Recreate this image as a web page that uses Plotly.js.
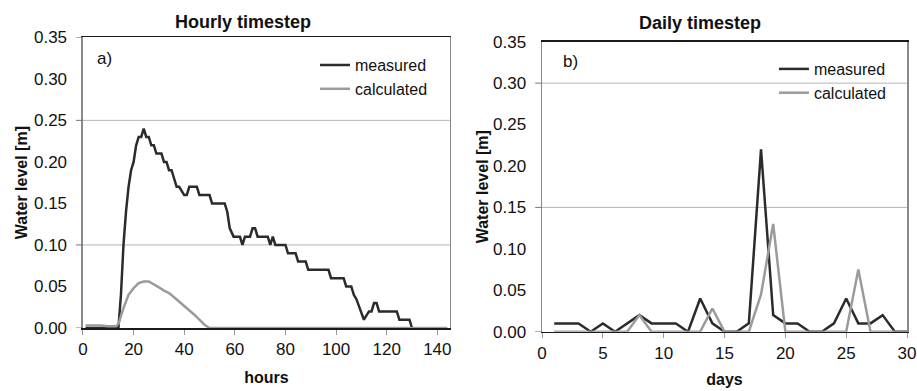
<!DOCTYPE html>
<html>
<head>
<meta charset="utf-8">
<script src="https://cdn.plot.ly/plotly-3.0.1.min.js"></script>
<style>
html,body{margin:0;padding:0;background:#fff;}
#chart{width:917px;height:391px;}
</style>
</head>
<body>
<div id="chart"></div>
<script>
// ---- Panel a: hourly timestep (vertices) ----
var hoursMeasured = [1, 14, 15, 16, 17, 18, 19, 20, 21, 22, 23, 24, 25, 26, 27, 28, 29, 31, 32, 33, 34, 35, 36, 37, 38, 40, 41, 42, 45, 46, 50, 51, 56, 57, 58, 59.5, 62, 63, 64, 66, 67, 68, 69, 73, 74, 75, 76, 80, 81, 84, 85, 88, 89, 97, 98, 103, 104, 106, 107, 108, 111, 113, 114, 115, 116, 117, 124, 125, 129, 130];
var levelMeasuredHourly = [0, 0, 0.04, 0.10, 0.14, 0.17, 0.19, 0.20, 0.22, 0.23, 0.23, 0.24, 0.23, 0.23, 0.22, 0.22, 0.21, 0.21, 0.20, 0.20, 0.19, 0.19, 0.18, 0.17, 0.17, 0.16, 0.16, 0.17, 0.17, 0.16, 0.16, 0.15, 0.15, 0.14, 0.12, 0.11, 0.11, 0.10, 0.11, 0.11, 0.12, 0.12, 0.11, 0.11, 0.10, 0.11, 0.10, 0.10, 0.09, 0.09, 0.08, 0.08, 0.07, 0.07, 0.06, 0.06, 0.05, 0.05, 0.04, 0.035, 0.01, 0.02, 0.02, 0.03, 0.03, 0.02, 0.02, 0.01, 0.01, 0];

var hoursCalculated = [1, 7, 10, 13, 14, 16, 18, 20, 22, 24, 26, 28, 30, 32, 34, 36, 38, 40, 42, 44, 46, 48, 50, 144];
var levelCalculatedHourly = [0.003, 0.003, 0.002, 0.002, 0.005, 0.024, 0.040, 0.048, 0.054, 0.056, 0.056, 0.053, 0.049, 0.045, 0.042, 0.037, 0.032, 0.027, 0.022, 0.016, 0.010, 0.004, 0, 0];

// ---- Panel b: daily timestep ----
var days = [1,2,3,4,5,6,7,8,9,10,11,12,13,14,15,16,17,18,19,20,21,22,23,24,25,26,27,28,29,30];
var levelMeasuredDaily = [0.01,0.01,0.01,0,0.01,0,0.01,0.02,0.01,0.01,0.01,0,0.04,0.01,0,0,0.01,0.22,0.02,0.01,0.01,0,0,0.01,0.04,0.01,0.01,0.02,0,0];
var levelCalculatedDaily = [0,0,0,0,0,0,0,0.02,0,0,0,0,0,0.028,0,0,0,0.045,0.13,0,0,0,0,0,0,0.075,0,0,0,0];

var seriesNames = ['measured', 'calculated'];
var yTickVals = [0, 0.05, 0.10, 0.15, 0.20, 0.25, 0.30, 0.35];
var gridValsA = [0.10, 0.25];
var tickMarkValsA = [0, 0.10, 0.25, 0.35];
var gridValsB = [0.15, 0.30];
var tickMarkValsB = [0, 0.15, 0.30];

var FONT = 'Liberation Sans, Arial, sans-serif';
var DARK = '#2b2b2b', GREY = '#9b9b9b';

var traces = [
  {x: hoursMeasured, y: levelMeasuredHourly, name: seriesNames[0], type: 'scatter', mode: 'lines',
   line: {color: DARK, width: 2.5}, xaxis: 'x', yaxis: 'y', legend: 'legend'},
  {x: hoursCalculated, y: levelCalculatedHourly, name: seriesNames[1], type: 'scatter', mode: 'lines',
   line: {color: GREY, width: 2.5}, xaxis: 'x', yaxis: 'y', legend: 'legend'},
  {x: days, y: levelMeasuredDaily, name: seriesNames[0], type: 'scatter', mode: 'lines',
   line: {color: DARK, width: 2.5}, xaxis: 'x2', yaxis: 'y2', legend: 'legend2'},
  {x: days, y: levelCalculatedDaily, name: seriesNames[1], type: 'scatter', mode: 'lines',
   line: {color: GREY, width: 2.5}, xaxis: 'x2', yaxis: 'y2', legend: 'legend2'}
];

var tickFont = {family: FONT, size: 17, color: '#111'};
var titleFont = {family: FONT, size: 16, color: '#111', weight: 'bold'};

function yMain(domain, anchor, standoff) {
  return {domain: domain, anchor: anchor, range: [0, 0.35], autorange: false,
    tickvals: yTickVals, tickformat: '.2f', ticks: '', showgrid: false, zeroline: false,
    showline: true, linecolor: '#8a8a8a', linewidth: 1.5, mirror: true,
    tickfont: tickFont, ticklabelstandoff: 11, fixedrange: true,
    title: {text: 'Water level [m]', font: titleFont, standoff: standoff}};
}

// gridlines and y tick marks (styling, positioned on the y data scale)
var shapes = [];
function addGrid(xd, yr, gridVals, tickVals) {
  gridVals.forEach(function (v) {
    shapes.push({type: 'line', xref: xd, yref: yr, x0: 0, x1: 1, y0: v, y1: v, layer: 'below',
      line: {color: '#b4b4b4', width: 1}});
  });
  tickVals.forEach(function (v) {
    shapes.push({type: 'line', xref: xd, yref: yr, x0: -0.019, x1: 0, y0: v, y1: v, layer: 'above',
      line: {color: '#777', width: 1}});
  });
}
addGrid('x domain', 'y', gridValsA, tickMarkValsA);
addGrid('x2 domain', 'y2', gridValsB, tickMarkValsB);

var layout = {
  width: 917, height: 391,
  margin: {l: 0, r: 0, t: 0, b: 0},
  paper_bgcolor: '#fff', plot_bgcolor: 'rgba(0,0,0,0)',
  font: {family: FONT, color: '#111'},
  xaxis: {domain: [0.0905, 0.4907], anchor: 'y', range: [0, 145], autorange: false,
    dtick: 20, tick0: 0, ticks: 'outside', ticklen: 5, tickcolor: '#999',
    showgrid: false, zeroline: false, showline: true, linecolor: '#1a1a1a', linewidth: 1.5, mirror: true,
    tickfont: tickFont, fixedrange: true,
    title: {text: 'hours', font: titleFont, standoff: 14}},
  yaxis: yMain([0.1611, 0.9046], 'x', 2),
  xaxis2: {domain: [0.5911, 0.9891], anchor: 'y2', range: [0, 30], autorange: false,
    dtick: 5, tick0: 0, ticks: 'outside', ticklen: 5, tickcolor: '#999',
    showgrid: false, zeroline: false, showline: true, linecolor: '#1a1a1a', linewidth: 1.5, mirror: true,
    tickfont: tickFont, fixedrange: true,
    title: {text: 'days', font: titleFont, standoff: 12}},
  yaxis2: yMain([0.1517, 0.8934], 'x2', 0),
  legend: {x: 0.3435, y: 0.877, xanchor: 'left', yanchor: 'top', bgcolor: 'rgba(0,0,0,0)',
    font: {family: FONT, size: 16, color: '#111'}, itemwidth: 30},
  legend2: {x: 0.844, y: 0.867, xanchor: 'left', yanchor: 'top', bgcolor: 'rgba(0,0,0,0)',
    font: {family: FONT, size: 16, color: '#111'}, itemwidth: 30},
  shapes: shapes,
  annotations: [
    {text: '<b>Hourly timestep</b>', xref: 'paper', yref: 'paper', x: 0.265, y: 0.944,
     xanchor: 'center', yanchor: 'middle', showarrow: false, font: {family: FONT, size: 18, color: '#111'}},
    {text: '<b>Daily timestep</b>', xref: 'paper', yref: 'paper', x: 0.7634, y: 0.94,
     xanchor: 'center', yanchor: 'middle', showarrow: false, font: {family: FONT, size: 18, color: '#111'}},
    {text: 'a)', xref: 'paper', yref: 'paper', x: 104/917, y: 1 - 58/391,
     xanchor: 'center', yanchor: 'middle', showarrow: false, font: {family: FONT, size: 17, color: '#111'}},
    {text: 'b)', xref: 'paper', yref: 'paper', x: 570/917, y: 1 - 61/391,
     xanchor: 'center', yanchor: 'middle', showarrow: false, font: {family: FONT, size: 17, color: '#111'}}
  ]
};

Plotly.newPlot('chart', traces, layout, {displayModeBar: false, staticPlot: true});
</script>
</body>
</html>
